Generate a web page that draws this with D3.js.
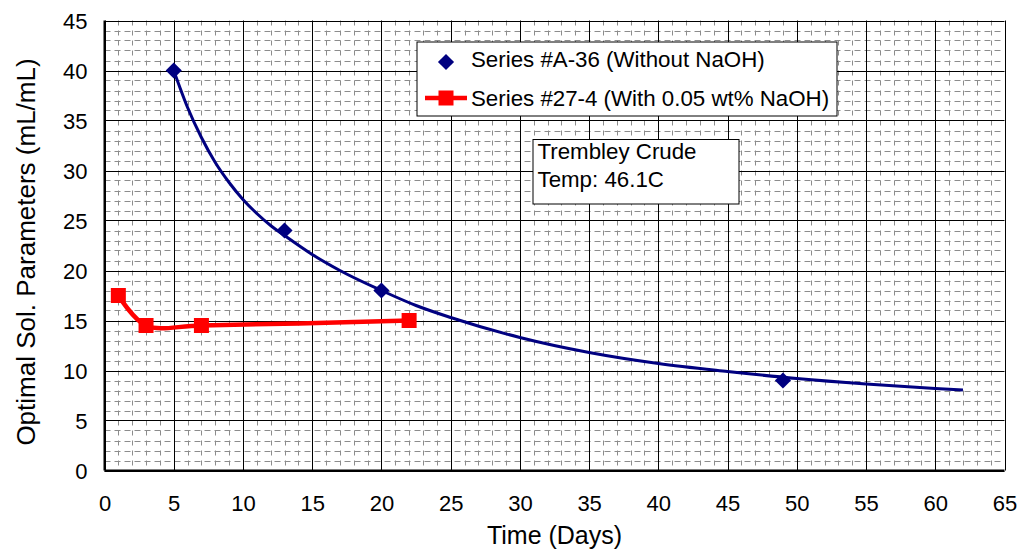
<!DOCTYPE html>
<html>
<head>
<meta charset="utf-8">
<script src="https://cdn.jsdelivr.net/npm/d3@7"></script>
<style>
body { margin: 0; background: #fff; }
text { font-family: Arial, "Liberation Sans", sans-serif; fill: #000; }
.minor { stroke: #8c8c8c; stroke-width: 1; }
.major { stroke: #000; stroke-width: 1; }
</style>
</head>
<body>
<div id="chart"></div>
<script>

var xTicks = [0, 5, 10, 15, 20, 25, 30, 35, 40, 45, 50, 55, 60, 65];
var yTicks = [0, 5, 10, 15, 20, 25, 30, 35, 40, 45];

// Series #A-36 measured points
var seriesA = [[5, 40], [13, 24], [20, 18], [49, 9]];
// trend curve of series A
var trendA = [[5, 40], [6, 36.3], [7, 33.3], [8, 30.8], [9, 28.8], [10, 27.1], [11, 25.7],
              [12, 24.5], [13, 23.5], [15, 21.6], [17, 20.0], [20, 18.0], [22.5, 16.5],
              [25, 15.3], [30, 13.3], [35, 11.8], [40, 10.7], [45, 9.9], [50, 9.2],
              [55, 8.65], [60, 8.2], [62, 8.05]];
// Series #27-4
var seriesB = [[1, 17.5], [3, 14.5], [7, 14.5], [22, 15]];

var legendLabels = ["Series #A-36 (Without NaOH)", "Series #27-4 (With 0.05 wt% NaOH)"];
var noteLines = ["Trembley Crude", "Temp: 46.1C"];

var width = 1020, height = 550;

var svg = d3.select('#chart')
  .append('svg')
  .attr('width', width)
  .attr('height', height);

var x = d3.scaleLinear().domain([0, 65]).range([104.5, 1004.5]);
var y = d3.scaleLinear().domain([0, 45]).range([470.5, 20.5]);

//minor grid every 1 unit
var grid = svg.append('g');
d3.range(1, 65).filter(function(d){ return d % 5 != 0; }).forEach(function(d){
  var px = Math.round(x(d)) + 0.5;
  grid.append('line').attr('class', 'minor')
    .attr('x1', px).attr('x2', px)
    .attr('y1', y(45)).attr('y2', y(0))
    .attr('stroke-dasharray', '5,5');
});
d3.range(1, 45).filter(function(d){ return d % 5 != 0; }).forEach(function(d){
  var py = Math.round(y(d)) + 0.5;
  grid.append('line').attr('class', 'minor')
    .attr('x1', x(0)).attr('x2', x(65))
    .attr('y1', py).attr('y2', py)
    .attr('stroke-dasharray', '6,4');
});

//major grid
xTicks.forEach(function(d){
  var px = Math.round(x(d)) + 0.5;
  grid.append('line').attr('class', 'major')
    .attr('x1', px).attr('x2', px)
    .attr('y1', y(45)).attr('y2', y(0));
});
yTicks.forEach(function(d){
  var py = Math.round(y(d)) + 0.5;
  grid.append('line').attr('class', 'major')
    .attr('x1', x(0)).attr('x2', x(65))
    .attr('y1', py).attr('y2', py);
});

// axis lines
svg.append('line')
  .attr('x1', x(0)).attr('x2', x(65))
  .attr('y1', y(0)).attr('y2', y(0))
  .attr('stroke', '#000').attr('stroke-width', 2);
svg.append('line')
  .attr('x1', x(0)).attr('x2', x(0))
  .attr('y1', y(0)).attr('y2', y(45))
  .attr('stroke', '#000').attr('stroke-width', 2);

var xAxis = d3.axisBottom(x).tickValues(xTicks).tickSize(0).tickPadding(0);
var yAxis = d3.axisLeft(y).tickValues(yTicks).tickSize(0).tickPadding(0);

var gx = svg.append('g')
  .attr('transform', 'translate(0,' + y(0) + ')')
  .call(xAxis);
gx.select('.domain').remove();
gx.selectAll('text')
  .attr('y', 40).attr('dy', 0)
  .style('font-size', '22px')
  .style('font-family', 'Arial, "Liberation Sans", sans-serif');

var gy = svg.append('g')
  .attr('transform', 'translate(' + x(0) + ',0)')
  .call(yAxis);
gy.select('.domain').remove();
gy.selectAll('text')
  .attr('x', -17).attr('dy', '0.35em')
  .style('font-size', '22px')
  .style('font-family', 'Arial, "Liberation Sans", sans-serif');

svg.append('text')
  .attr('x', (x(0) + x(65)) / 2)
  .attr('y', 544)
  .attr('text-anchor', 'middle')
  .style('font-size', '25px')
  .text('Time (Days)');

svg.append('text')
  .attr('transform', 'translate(35,252) rotate(-90)')
  .attr('text-anchor', 'middle')
  .style('font-size', '26px')
  .text('Optimal Sol. Parameters (mL/mL)');

// series A trend + markers
var line = d3.line()
  .x(function(d){ return x(d[0]); })
  .y(function(d){ return y(d[1]); });

svg.append('path')
  .datum(trendA)
  .attr('d', line.curve(d3.curveMonotoneX))
  .attr('fill', 'none')
  .attr('stroke', '#000080')
  .attr('stroke-width', 3);

var diamond = d3.symbol().type(d3.symbolSquare).size(130);
svg.selectAll('.ptA')
  .data(seriesA)
  .enter().append('path')
  .attr('class', 'ptA')
  .attr('d', diamond)
  .attr('transform', function(d){ return 'translate(' + x(d[0]) + ',' + y(d[1]) + ') rotate(45)'; })
  .attr('fill', '#000080');

// series B
svg.append('path')
  .datum(seriesB)
  .attr('d', line.curve(d3.curveCatmullRom.alpha(0.5)))
  .attr('fill', 'none')
  .attr('stroke', '#ff0000')
  .attr('stroke-width', 4.5);

svg.selectAll('.ptB')
  .data(seriesB)
  .enter().append('rect')
  .attr('class', 'ptB')
  .attr('x', function(d){ return x(d[0]) - 7.5; })
  .attr('y', function(d){ return y(d[1]) - 7.5; })
  .attr('width', 15)
  .attr('height', 15)
  .attr('fill', '#ff0000');

// legend
var legend = svg.append('g').attr('transform', 'translate(417,42)');
legend.append('rect')
  .attr('width', 420).attr('height', 74)
  .attr('fill', '#fff').attr('stroke', '#000').attr('stroke-width', 1);
legend.append('path')
  .attr('d', diamond)
  .attr('transform', 'translate(29,20) rotate(45)')
  .attr('fill', '#000080');
legend.append('line')
  .attr('x1', 8).attr('x2', 50).attr('y1', 56).attr('y2', 56)
  .attr('stroke', '#ff0000').attr('stroke-width', 4.5);
legend.append('rect')
  .attr('x', 21.5).attr('y', 48.5).attr('width', 15).attr('height', 15)
  .attr('fill', '#ff0000');
legend.selectAll('.ltext')
  .data(legendLabels)
  .enter().append('text')
  .attr('class', 'ltext')
  .attr('x', 54)
  .attr('y', function(d, i){ return 25 + i * 39; })
  .style('font-size', '22.3px')
  .text(function(d){ return d; });

// note box
var note = svg.append('g').attr('transform', 'translate(533,139.5)');
note.append('rect')
  .attr('width', 206).attr('height', 64.5)
  .attr('fill', '#fff').attr('stroke', '#000').attr('stroke-width', 1);
note.selectAll('text')
  .data(noteLines)
  .enter().append('text')
  .attr('x', 4.5)
  .attr('y', function(d, i){ return 19 + i * 28.5; })
  .style('font-size', '22.3px')
  .text(function(d){ return d; });

</script>
</body>
</html>
